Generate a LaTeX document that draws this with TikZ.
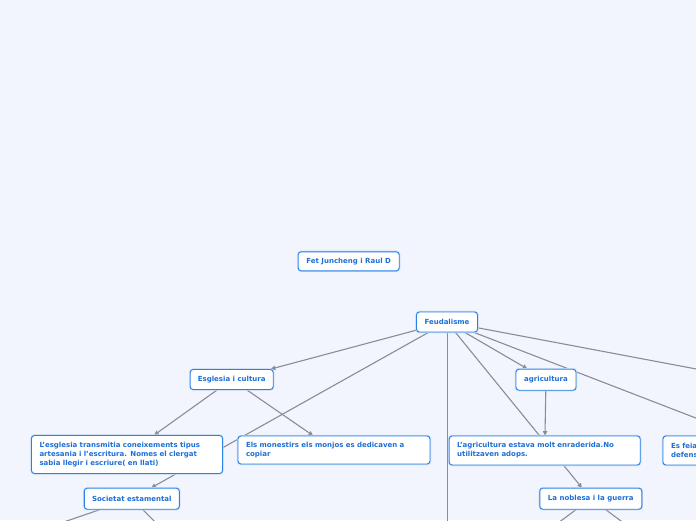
\documentclass[tikz,border=0pt]{standalone}
\usepackage{fontspec}
\setmainfont{DejaVu Sans}
\usetikzlibrary{arrows.meta,backgrounds}
\definecolor{bg}{HTML}{F2F5FE}
\definecolor{nodeblue}{HTML}{2A82E4}
\definecolor{halo}{HTML}{BFD8F6}
\definecolor{textblue}{HTML}{1D6FD6}
\definecolor{edgegray}{HTML}{8A8D96}
\begin{document}
\begin{tikzpicture}[x=1pt,y=-1pt,
  box/.style={draw=nodeblue, line width=0.9pt, fill=white, rounded corners=3pt,
    preaction={draw=halo, line width=2.2pt},
    font=\fontsize{7}{9}\selectfont\bfseries, text=textblue, inner sep=0pt, align=center},
  tbox/.style={box, align=left, inner xsep=8pt, inner ysep=0pt},
  link/.style={draw=edgegray, line width=1.1pt, -{Triangle[length=4.5pt,width=4.5pt]}},
  plain/.style={draw=edgegray, line width=1.1pt}]
\useasboundingbox (0,0) rectangle (696,520);
\clip (0,0) rectangle (696,520);

\node[box, minimum width=101pt, minimum height=19pt] (fet) at (348.7,261.3) {Fet Juncheng i Raul D};
\node[box, minimum width=61pt, minimum height=20pt] (feud) at (447,322) {Feudalisme};
\node[box, minimum width=83pt, minimum height=20pt] (esg) at (231.7,379.5) {Esglesia i cultura};
\node[box, minimum width=60pt, minimum height=21pt] (agri) at (546,379.7) {agricultura};
\node[tbox, minimum width=191pt, minimum height=38pt, text width=175pt] (lesg) at (127,454.5)
  {L'esglesia transmitia coneixements tipus\\artesania i l'escritura. Nomes el clergat\\sabia llegir i escriure( en llati)};
\node[tbox, minimum width=192pt, minimum height=28pt, text width=176pt] (mon) at (334,450)
  {Els monestirs els monjos es dedicaven a\\copiar};
\node[tbox, minimum width=191pt, minimum height=29pt, text width=175pt] (lagri) at (544.7,450.5)
  {L'agricultura estava molt enraderida.No\\utilitzaven adops.};
\node[tbox, minimum width=234pt, minimum height=29pt, text width=218pt] (esfeia) at (780,450.5)
  {Es feia\\defensa};
\node[box, minimum width=95pt, minimum height=21pt] (soc) at (131.8,498.7) {Societat estamental};
\node[box, minimum width=102pt, minimum height=21pt] (nob) at (590.8,498.7) {La noblesa i la guerra};

\coordinate (down) at (447.7,620);
\coordinate (farright) at (760,381);
\coordinate (socA) at (-18,550);
\coordinate (socB) at (182,548.7);
\coordinate (nobA) at (531,543);
\coordinate (nobB) at (651,543);

\begin{pgfonlayer}{background}
  \clip (0,0) rectangle (696,520);
  \fill[bg] (0,0) rectangle (696,520);
  \draw[link] (feud) -- (esg);
  \draw[link] (feud) -- (soc);
  \draw[link] (feud.south -| down) -- (down);
  \draw[link] (feud) -- (nob);
  \draw[link] (feud) -- (agri);
  \draw[link] (feud) -- (esfeia);
  \draw[link] (feud) -- (farright);
  \draw[link] (esg) -- (lesg);
  \draw[link] (esg) -- (mon);
  \draw[link] (agri) -- (lagri);
  \draw[link] (soc) -- (socA);
  \draw[link] (soc) -- (socB);
  \draw[link] (nob) -- (nobA);
  \draw[link] (nob) -- (nobB);
\end{pgfonlayer}
\end{tikzpicture}
\end{document}
